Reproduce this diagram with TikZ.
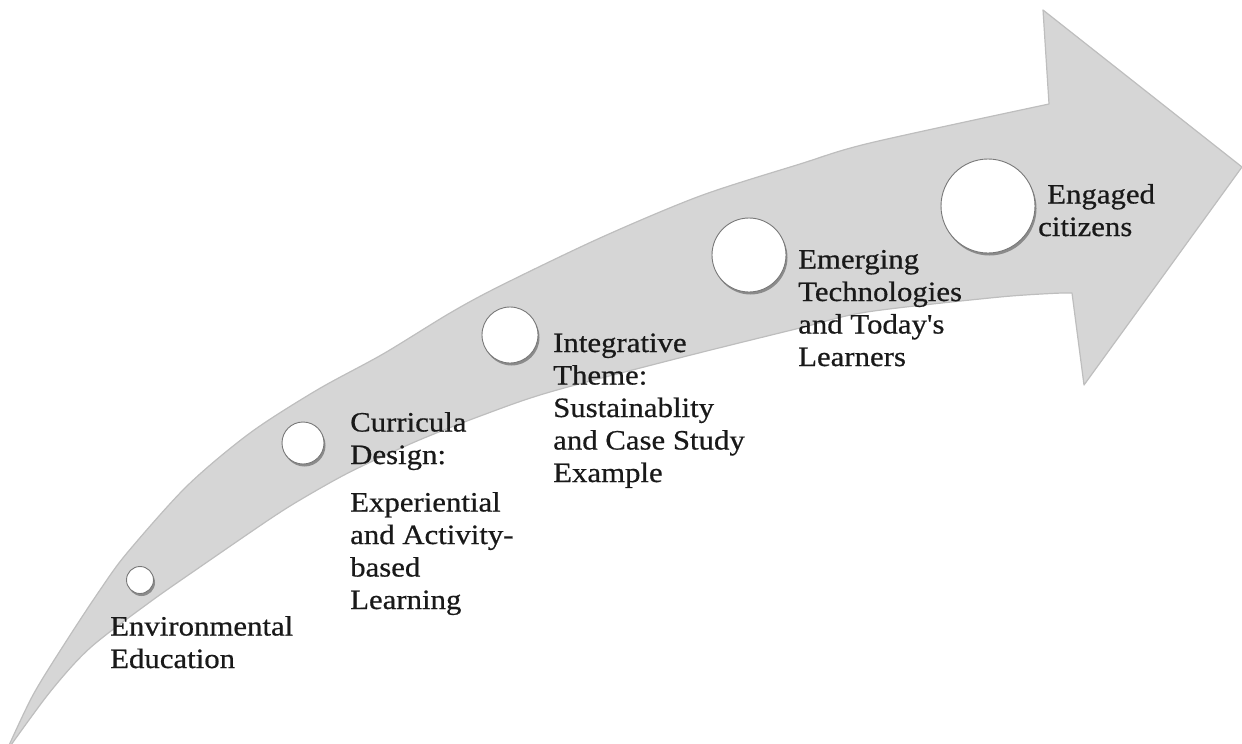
\documentclass[tikz,border=0pt]{standalone}
\usepackage{fontspec}
\setmainfont{Liberation Serif}[FakeStretch=1.1, FakeBold=0.6, Ligatures=TeXOff]
\usetikzlibrary{shadows}
\definecolor{band}{RGB}{214,214,214}
\definecolor{bandedge}{RGB}{190,190,190}
\definecolor{ringgrey}{RGB}{120,120,120}
\definecolor{inkgrey}{RGB}{25,25,25}
\tikzset{
  stepdot/.style={circle, fill=white, draw=ringgrey, line width=0.9pt, inner sep=0pt,
    drop shadow={shadow xshift=1.5pt, shadow yshift=-2.5pt, opacity=0.35, fill=black}},
  lbl/.style={font=\fontsize{28}{32.5}\selectfont, align=left, inner sep=0pt, anchor=base west, text=inkgrey}
}
\begin{document}
\begin{tikzpicture}[x=1pt,y=-1pt]
\useasboundingbox (0,0) rectangle (1242,744);
% the curved arrow
\filldraw[fill=band, draw=bandedge, line width=1.2pt, line join=round]
  plot[smooth, tension=0.5] coordinates {(6,752) (33,695) (67,640) (100,590) (127,553) (187,486) (250,433) (317,390) (383,354) (450,313) (500,286) (600,238) (700,196) (800,164) (870,143) (1049,104)}
  -- (1043,10) -- (1242,167) -- (1084,385) -- (1072,293)
  -- plot[smooth, tension=0.5] coordinates {(1062,293) (1000,297) (867,312) (800,328) (683,357) (550,392) (483,415) (417,441) (350,472) (300,500) (267,521) (200,567) (150,602) (90,648) (50,692) (6,752)}
  -- cycle;
% circles
\node[stepdot, minimum size=27pt] (c1) at (140,580) {};
\node[stepdot, minimum size=42pt] (c2) at (303,443) {};
\node[stepdot, minimum size=56pt] (c3) at (510,335) {};
\node[stepdot, minimum size=74pt] (c4) at (749,255) {};
\node[stepdot, minimum size=94pt] (c5) at (988,206) {};
% labels (anchor = baseline of the last line)
\node[lbl] (t1) at (110,668) {Environmental\\Education};
\node[lbl] (t2) at (350,609) {Curricula\\Design:\\[15pt]Experiential\\and Activity-\\based\\Learning};
\node[lbl] (t3) at (553,482) {Integrative\\Theme:\\Sustainablity\\and Case Study\\Example};
\node[lbl] (t4) at (798,366) {Emerging\\Technologies\\and Today's\\Learners};
\node[lbl] (t5) at (1038,236) {\hspace{9pt}Engaged\\citizens};
\end{tikzpicture}
\end{document}
